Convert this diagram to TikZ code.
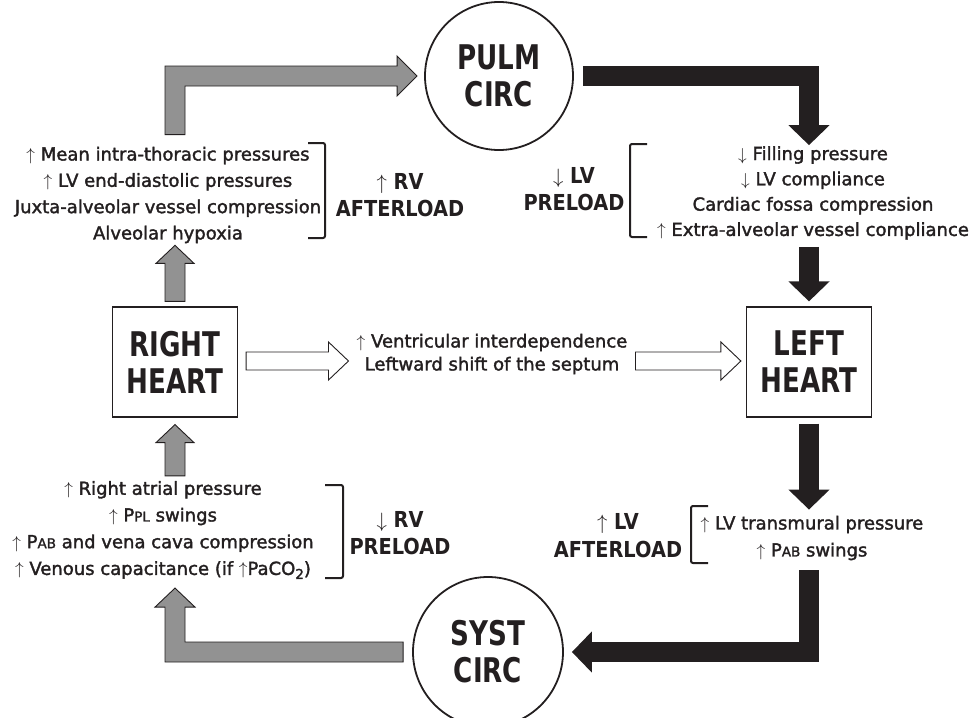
\documentclass[tikz,border=0pt]{standalone}
\usepackage{fontspec}
\setmainfont{DejaVu Sans}
\newfontfamily\txtfont{DejaVu Sans}[FakeBold=1.8]
\newfontfamily\headfont{DejaVu Sans}[FakeStretch=0.77]
\newfontfamily\lblfont{DejaVu Sans}[FakeStretch=0.88]
\usetikzlibrary{arrows.meta,calc}
\definecolor{arrgray}{RGB}{146,146,146}
\definecolor{ink}{RGB}{35,31,32}
\newcommand{\upar}{$\uparrow$}
\newcommand{\dnar}{$\downarrow$}
\newcommand{\sm}[1]{{\fontsize{13.5}{13.5}\selectfont #1}}

\begin{document}
\begin{tikzpicture}[x=1pt,y=-1pt,
  txt/.style={inner sep=0pt,align=center,text=ink,font=\txtfont\fontsize{18}{26.3}\selectfont},
  lbl/.style={inner sep=0pt,align=center,text=ink,font=\lblfont\bfseries\fontsize{22}{27}\selectfont},
  heart/.style={draw=ink,line width=1.2pt,minimum width=125pt,minimum height=110pt,align=center,text=ink,font=\headfont\bfseries\fontsize{34}{37}\selectfont},
  circ/.style={circle,draw=ink,line width=1.8pt,minimum size=148pt,inner sep=0pt,align=center,text=ink,font=\headfont\bfseries\fontsize{34}{37}\selectfont},
  grayarr/.style={fill=arrgray,draw=ink,line width=0.9pt,line join=miter},
  whitearr/.style={fill=white,draw=ink,line width=0.9pt,line join=miter},
  blkarr/.style={draw=ink,line width=20pt,line join=miter,-{Triangle[width=40pt,length=20pt]}},
  brk/.style={draw=ink,line width=2pt,rounded corners=2pt}]
  \useasboundingbox (0,0) rectangle (970,718);

  % circulations and hearts
  \node[circ] (pulm) at (499,76) {PULM\\CIRC};
  \node[circ,minimum size=150pt] (syst) at (488,652) {SYST\\CIRC};
  \node[heart] (rh) at (175,362) {RIGHT\\HEART};
  \node[heart] (lh) at (809,362) {LEFT\\HEART};

  % texts
  \node[txt] (rvinc) at (168,195) {\upar{} Mean intra-thoracic pressures\\
    \upar{} LV end-diastolic pressures\\
    Juxta-alveolar vessel compression\\
    Alveolar hypoxia};
  \node[lbl] (rvaft) at (400,195) {\upar{} RV\\AFTERLOAD};
  \node[lbl] (lvpre) at (574,189) {\dnar{} LV\\PRELOAD};
  \node[txt,font=\txtfont\fontsize{18}{25.3}\selectfont] (lvdec) at (813,193) {\dnar{} Filling pressure\\
    \dnar{} LV compliance\\
    Cardiac fossa compression\\
    \upar{} Extra-alveolar vessel compliance};
  \node[txt,font=\txtfont\fontsize{18}{23}\selectfont] (ventr) at (492,354) {\upar{} Ventricular interdependence\\
    Leftward shift of the septum};
  \node[txt,font=\txtfont\fontsize{18}{26.7}\selectfont] (rvdec) at (163,530) {\upar{} Right atrial pressure\\
    \upar{} P\sm{PL} swings\\
    \upar{} P\sm{AB} and vena cava compression\\
    \upar{} Venous capacitance (if \upar PaCO\raisebox{-4pt}{\sm{2}})};
  \node[lbl] (rvpre) at (400,533) {\dnar{} RV\\PRELOAD};
  \node[lbl,font=\lblfont\bfseries\fontsize{22}{28}\selectfont] (lvaft) at (618,536) {\upar{} LV\\AFTERLOAD};
  \node[txt,font=\txtfont\fontsize{18}{27}\selectfont] (lvinc) at (812,538) {\upar{} LV transmural pressure\\
    \upar{} P\sm{AB} swings};

  % brackets
  \draw[brk] (308,143) -- (325,143) -- (325,238) -- (308,238);
  \draw[brk] (647,144) -- (630,144) -- (630,237) -- (647,237);
  \draw[brk] (325,485) -- (343,485) -- (343,578) -- (325,578);
  \draw[brk] (708,506) -- (691,506) -- (691,563) -- (708,563);

  % right side (gray)
  \coordinate (g1) at (rh.north |- rvinc.north);
  \draw[grayarr] ($(g1)+(-10,-12)$) |- ($(pulm.west)+(-27,-10)$) -- ++(0,-10)
    -- ($(pulm.west)+(-7,0)$) -- ++(-20,20) -- ++(0,-10) -| ($(g1)+(10,-12)$) -- cycle;
  \coordinate (g2a) at ($(rh.north)+(0,-5)$);
  \coordinate (g2b) at ($(rh.north |- rvinc.south)+(0,2)$);
  \draw[grayarr] ($(g2a)+(-10,0)$) -- ($(g2b)+(-10,18)$) -- ++(-9,0) -- (g2b)
    -- ++(19,18) -- ++(-9,0) -- ($(g2a)+(10,0)$) -- cycle;
  \coordinate (g3a) at ($(rh.south |- rvdec.north)+(0,-5)$);
  \coordinate (g3b) at ($(rh.south)+(0,7)$);
  \draw[grayarr] ($(g3a)+(-10,0)$) -- ($(g3b)+(-10,18)$) -- ++(-9,0) -- (g3b)
    -- ++(19,18) -- ++(-9,0) -- ($(g3a)+(10,0)$) -- cycle;
  \coordinate (g4) at ($(rh.south |- rvdec.south)+(0,9)$);
  \draw[grayarr] ($(syst.west)+(-9,-10)$) -| ($(g4)+(10,19)$) -- ++(10,0) -- (g4)
    -- ++(-20,19) -- ++(10,0) |- ($(syst.west)+(-9,10)$) -- cycle;

  % left side (black)
  \draw[blkarr] ($(pulm.east)+(9,0)$) -| ($(lh.north |- lvdec.north)+(0,-1)$);
  \draw[blkarr] ($(lh.north |- lvdec.south)+(0,7)$) -- ($(lh.north)+(0,-5)$);
  \draw[blkarr] ($(lh.south)+(0,6)$) -- ($(lh.south |- lvinc.north)+(0,-6)$);
  \draw[blkarr] ($(lh.south |- lvinc.south)+(0,10)$) |- ($(syst.east)+(8,0)$);

  % interdependence
  \coordinate (w1a) at ($(rh.east)+(8,-1)$);
  \coordinate (w1b) at ($(rh.east -| ventr.west)+(-8,-1)$);
  \draw[whitearr] ($(w1a)+(0,-9)$) -- ($(w1b)+(-20,-9)$) -- ++(0,-10) -- (w1b)
    -- ++(-20,19) -- ++(0,-10) -- ($(w1a)+(0,9)$) -- cycle;
  \coordinate (w2a) at ($(ventr.east |- lh.west)+(8,-1)$);
  \coordinate (w2b) at ($(lh.west)+(-5,-1)$);
  \draw[whitearr] ($(w2a)+(0,-9)$) -- ($(w2b)+(-20,-9)$) -- ++(0,-10) -- (w2b)
    -- ++(-20,19) -- ++(0,-10) -- ($(w2a)+(0,9)$) -- cycle;
\end{tikzpicture}
\end{document}
